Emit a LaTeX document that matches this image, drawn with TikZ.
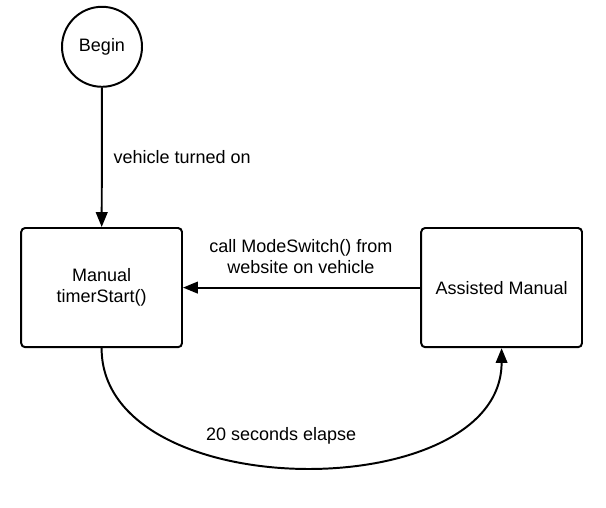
\documentclass[tikz,border=0pt]{standalone}
\usepackage{fontspec}
\setmainfont{Liberation Sans}
\usetikzlibrary{arrows.meta}
\begin{document}
\begin{tikzpicture}[-,thick,line width=1.4pt,font=\fontsize{12.8}{15}\selectfont,start node/.style={circle,draw,minimum size=2cm,inner sep=0pt},mode node/.style={rectangle,draw,rounded corners=0.1cm,minimum width=4.02cm,minimum height=2.98cm,align=center}]
\tikzstyle{trans edge} = [draw,-{Triangle[length=0.37cm,width=0.29cm]}]

\useasboundingbox (0,0) rectangle (15.15,12.7);

\node[start node] (begin) at (2.55,11.53) {Begin};
\node[mode node] (manual) at (2.54,5.51) {Manual\\timerStart()};
\node[mode node] (assisted) at (12.54,5.51) {Assisted Manual};

\path[trans edge] (begin) -- (manual);
\node[anchor=west] (turnedon) at (2.7,8.78) {vehicle turned on};

\path[trans edge] (assisted) -- (manual);
\node[align=center] (modeswitch) at (7.52,6.29) {call ModeSwitch() from\\website on vehicle};

% timer
\path[trans edge] (manual.south) .. controls (2.54,0.03) and (12.54,0.03) .. (assisted.south);
\node (elapse) at (7.03,1.8) {20 seconds elapse};

\end{tikzpicture}
\end{document}
